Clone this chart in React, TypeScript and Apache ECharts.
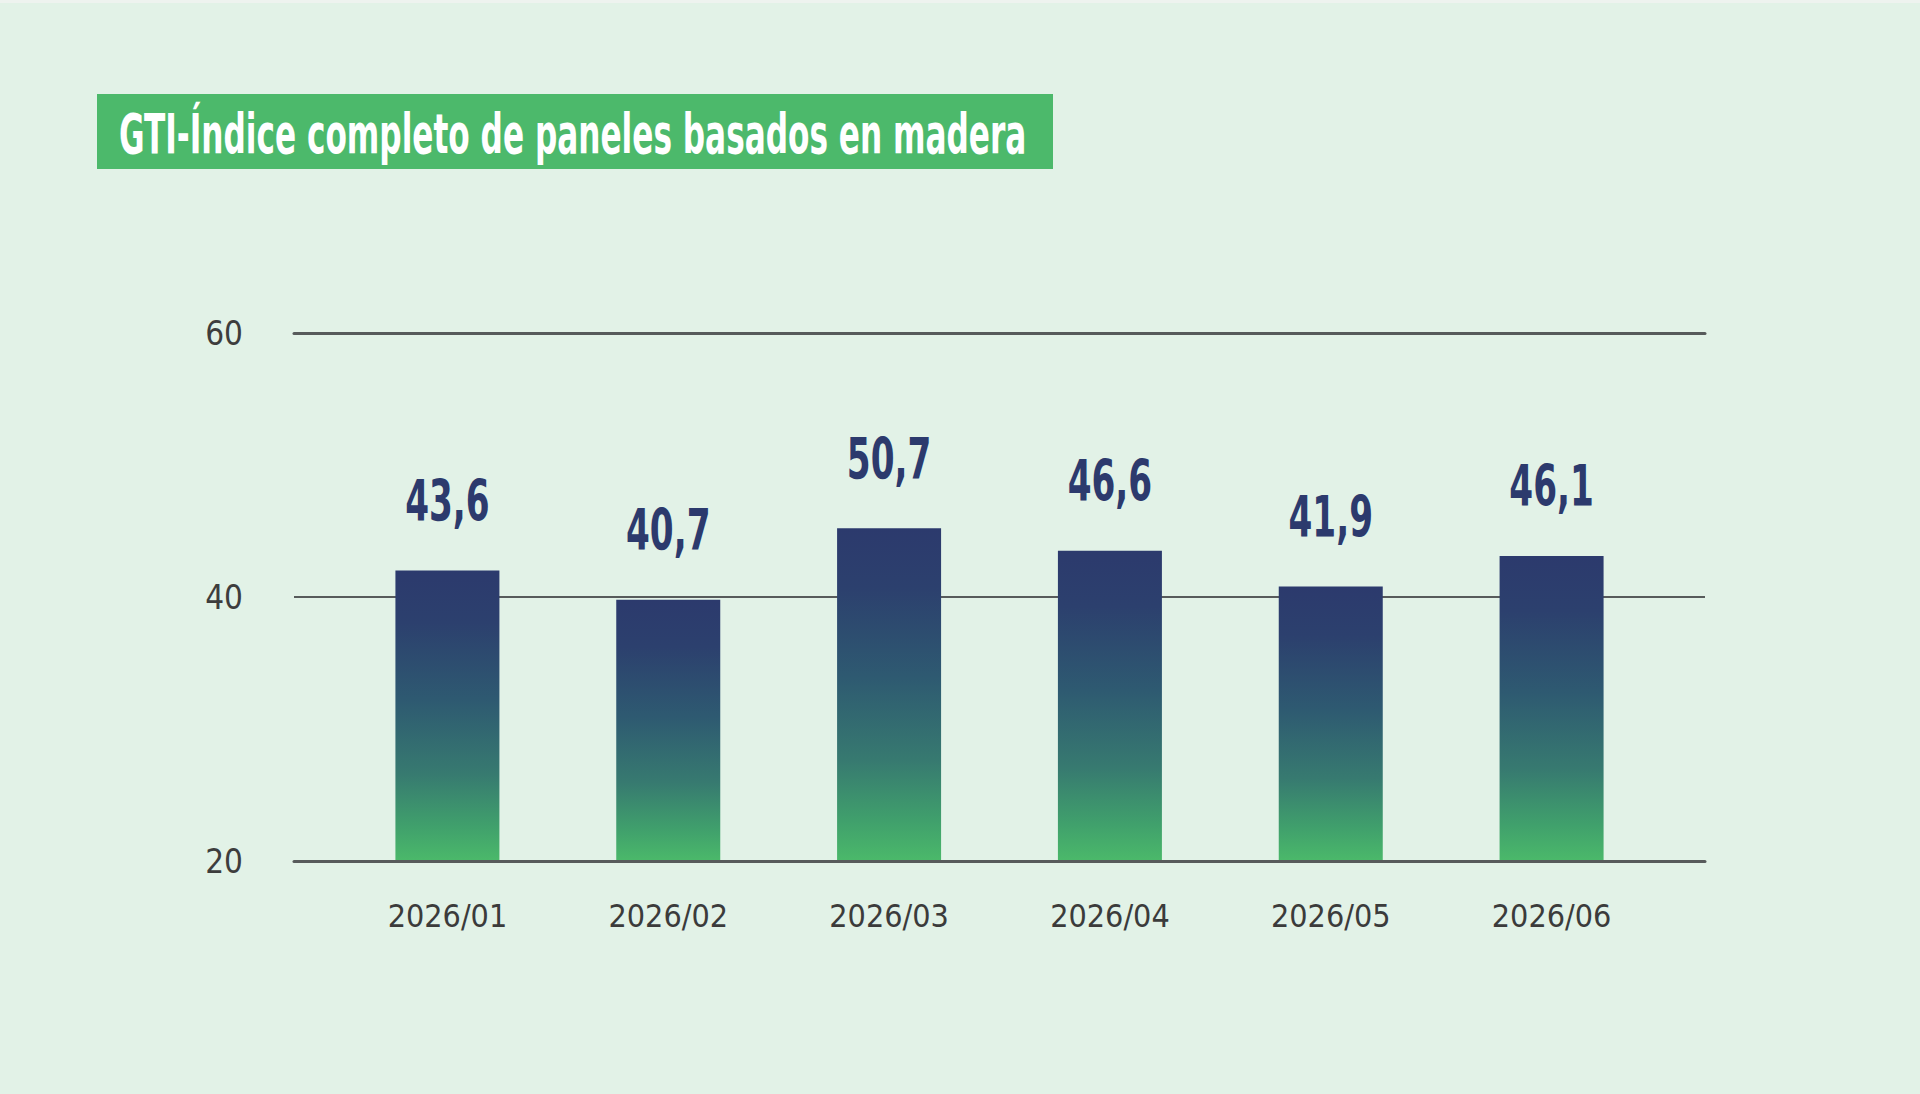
import React, { useEffect, useRef } from "react";
import * as echarts from "echarts";

const categories = ["2026/01", "2026/02", "2026/03", "2026/04", "2026/05", "2026/06"];
// bar heights as drawn in the picture (axis units)
const barValues = [42.0, 39.8, 45.2, 43.5, 40.8, 43.1];
// values printed above the bars
const labelValues = [43.6, 40.7, 50.7, 46.6, 41.9, 46.1];
const yMin = 20;
const yMax = 60;
const yInterval = 20;
const titleText = "GTI-Índice completo de paneles basados en madera";

const COND = "'DejaVu Sans Condensed', 'DejaVu Sans', sans-serif";

export default function App() {
  const ref = useRef<HTMLDivElement>(null);

  useEffect(() => {
    document.body.style.margin = "0";
    if (!ref.current) return;
    const chart = echarts.init(ref.current, null, { renderer: "svg" });
    const lineColor = "#575b5b";
    const labelData = barValues.map((v, i) => [i, v, labelValues[i]]);
    const option: any = {
      animation: false,
      backgroundColor: "#e2f2e7",
      graphic: [
        { type: "rect", left: 0, top: 0, shape: { width: 1920, height: 3 }, style: { fill: "#eef3ef" }, silent: true },
        {
          type: "rect",
          left: 97,
          top: 94,
          shape: { width: 956, height: 75 },
          style: { fill: "#4cb96b" },
          silent: true,
        },
        {
          type: "text",
          x: 119,
          y: 134,
          scaleX: 0.63,
          style: {
            text: titleText,
            fill: "#ffffff",
            font: `bold 55px ${COND}`,
            verticalAlign: "middle",
            align: "left",
          },
          silent: true,
        },
      ],
      grid: [
        { left: 294, right: 215, top: 333, bottom: 233 },
        { left: 337, right: 258, top: 333, bottom: 233 },
      ],
      xAxis: [
        {
          gridIndex: 0,
          type: "value",
          min: 0,
          max: 1,
          position: "bottom",
          z: 5,
          axisLine: { show: true, onZero: false, lineStyle: { color: lineColor, width: 3 } },
          axisTick: { show: false },
          axisLabel: { show: false },
          splitLine: { show: false },
        },
        {
          gridIndex: 0,
          type: "value",
          min: 0,
          max: 1,
          position: "top",
          axisLine: { show: true, onZero: false, lineStyle: { color: lineColor, width: 3 } },
          axisTick: { show: false },
          axisLabel: { show: false },
          splitLine: { show: false },
        },
        {
          gridIndex: 1,
          type: "category",
          data: categories,
          axisLine: { show: false },
          axisTick: { show: false },
          axisLabel: {
            color: "#3b3b3b",
            fontSize: 32,
            fontFamily: COND,
            margin: 39,
          },
        },
      ],
      yAxis: [
        {
          gridIndex: 0,
          type: "value",
          min: yMin,
          max: yMax,
          interval: yInterval,
          axisLine: { show: false },
          axisTick: { show: false },
          axisLabel: {
            color: "#3d3d3d",
            fontSize: 33,
            fontFamily: COND,
            margin: 51,
          },
          splitLine: { show: true, lineStyle: { color: lineColor, width: 2 } },
        },
        {
          gridIndex: 1,
          type: "value",
          min: yMin,
          max: yMax,
          interval: yInterval,
          show: false,
          splitLine: { show: false },
        },
      ],
      series: [
        {
          type: "bar",
          xAxisIndex: 2,
          yAxisIndex: 1,
          data: barValues,
          barWidth: 104,
          itemStyle: {
            color: new echarts.graphic.LinearGradient(0, 0, 0, 1, [
              { offset: 0, color: "#2c3a6d" },
              { offset: 0.18, color: "#2c406e" },
              { offset: 0.45, color: "#2e5a71" },
              { offset: 0.7, color: "#377a70" },
              { offset: 0.88, color: "#40a06c" },
              { offset: 1, color: "#4bb96a" },
            ]),
          },
        },
        {
          type: "custom",
          xAxisIndex: 2,
          yAxisIndex: 1,
          data: labelData,
          z: 4,
          renderItem: (params: any, api: any) => {
            const pt = api.coord([api.value(0), api.value(1)]);
            const v = labelValues[params.dataIndex];
            return {
              type: "text",
              x: pt[0],
              y: pt[1] - 69,
              scaleX: 0.68,
              style: {
                text: v.toFixed(1).replace(".", ","),
                fill: "#2c3a6d",
                font: `bold 56px ${COND}`,
                align: "center",
                verticalAlign: "middle",
              },
            };
          },
        },
      ],
    };
    chart.setOption(option);
    return () => chart.dispose();
  }, []);

  return <div ref={ref} style={{ width: 1920, height: 1094 }} />;
}
